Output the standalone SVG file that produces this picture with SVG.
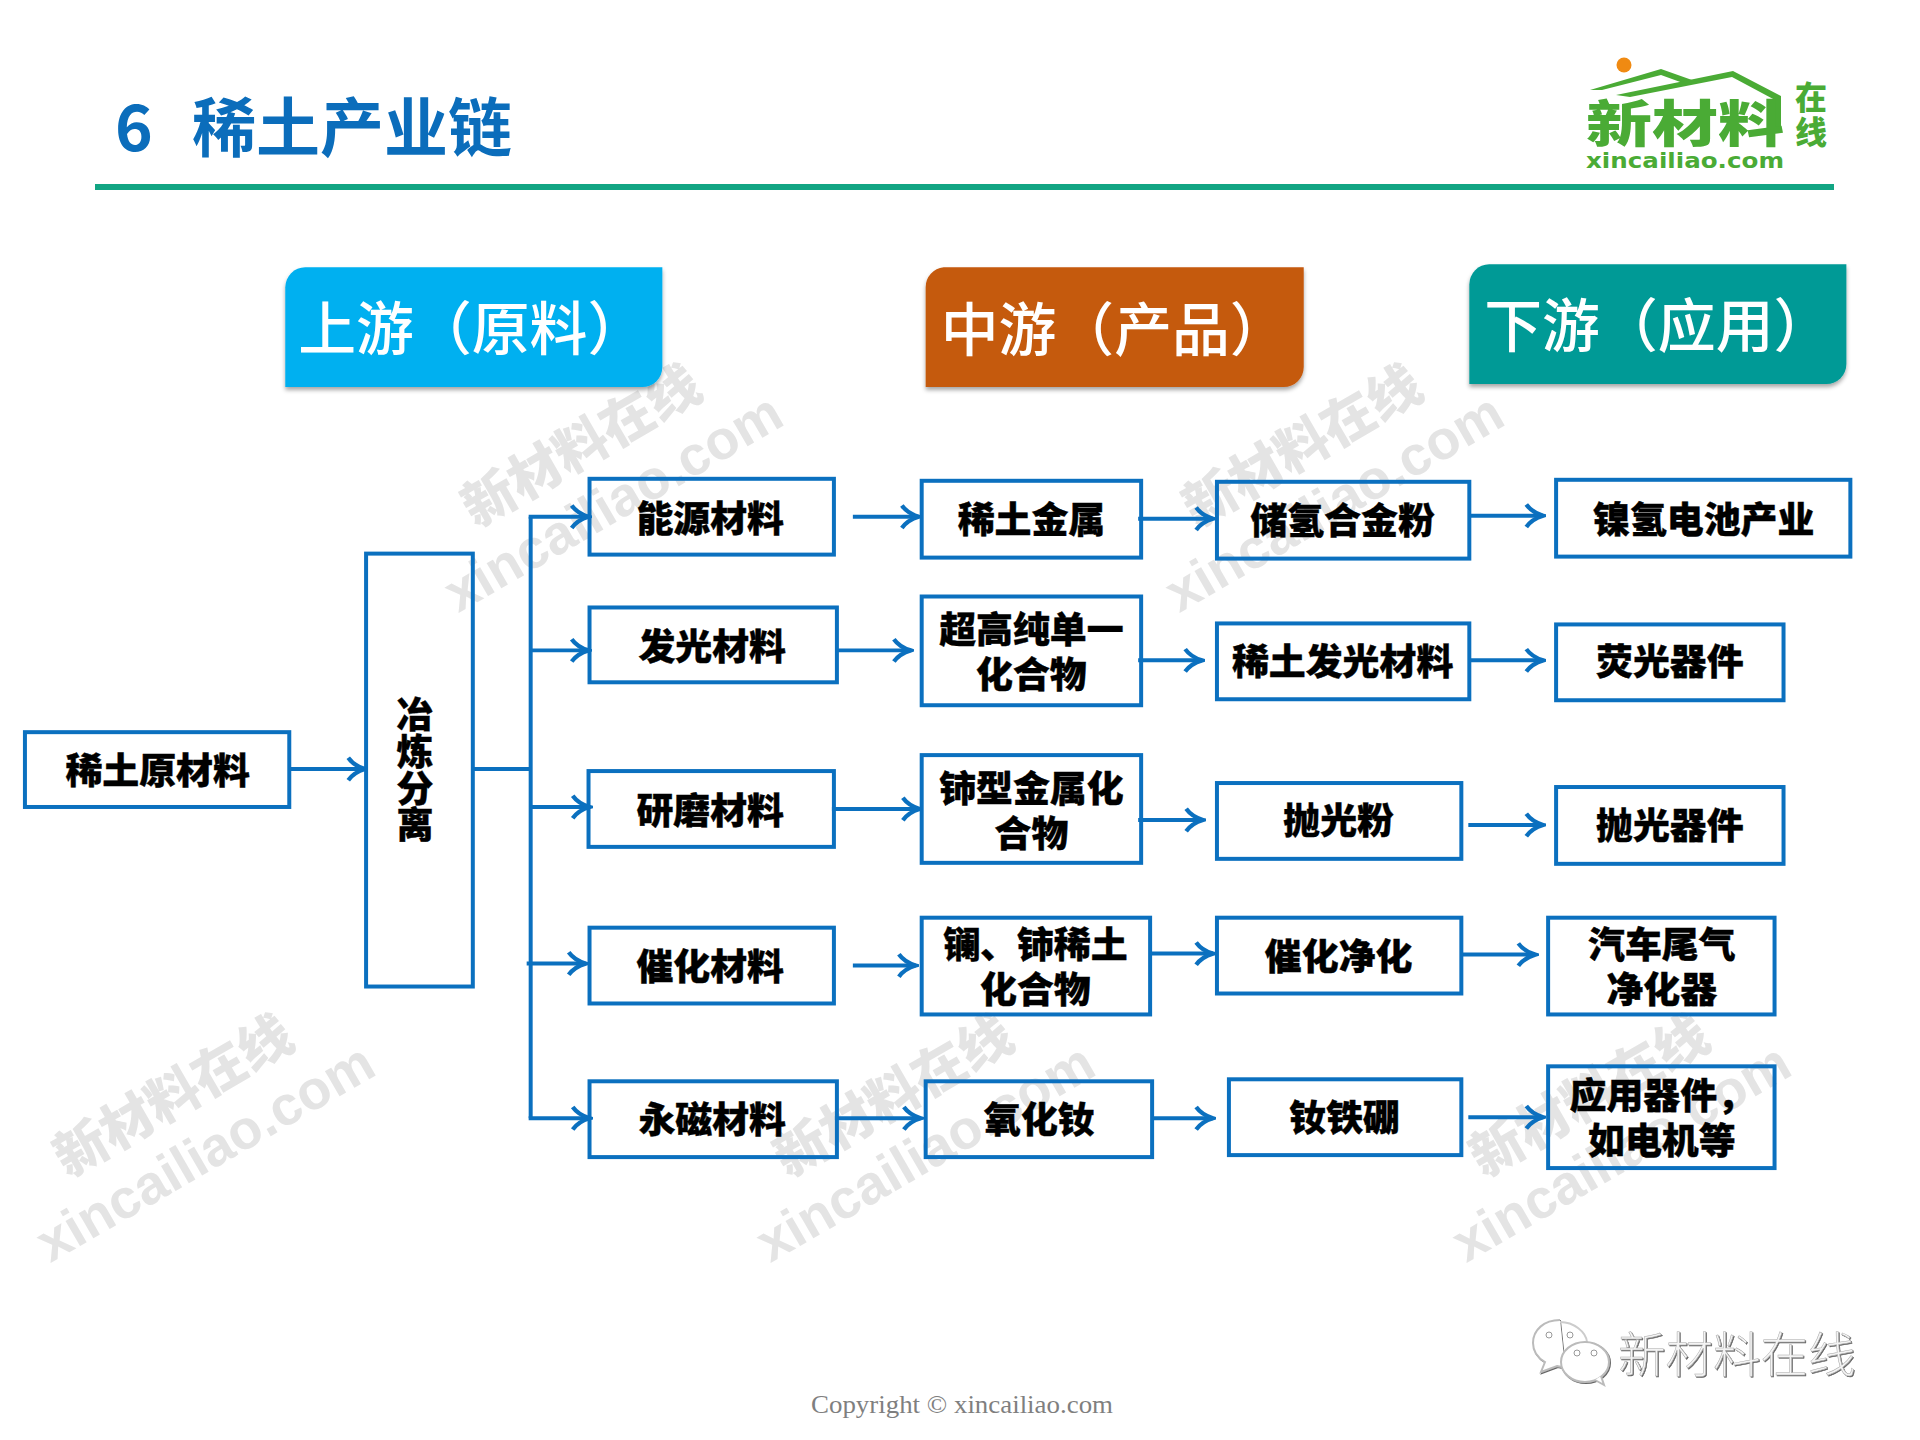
<svg xmlns="http://www.w3.org/2000/svg" width="1920" height="1440" viewBox="0 0 1920 1440">
<style>
text{font-family:"Noto Sans CJK SC","Liberation Sans",sans-serif}
.box{fill:none;stroke:#0b70bf;stroke-width:4}
.t{font-size:37px;font-weight:900;fill:#000;stroke:#000;stroke-width:.4;text-anchor:middle;dominant-baseline:central;transform:translateY(-2px)}
.h{font-size:58px;font-weight:500;fill:#fff;dominant-baseline:central;transform:translateY(-2px)}
.c{fill:none;stroke:#0b70bf;stroke-width:4}
.a{marker-end:url(#arr)}
.wm1{font-size:53px;font-weight:900;fill:#e4e4e4;text-anchor:middle;dominant-baseline:central}
.wm2{font-size:55px;font-weight:700;fill:#e4e4e4;text-anchor:middle;dominant-baseline:central;font-family:"Liberation Sans",sans-serif}
.lg{fill:#4aab35}
</style>
<defs>
<marker id="arr" markerUnits="userSpaceOnUse" markerWidth="27" markerHeight="27" refX="21" refY="12" orient="auto" viewBox="0 0 24 24">
<path d="M6,2 Q11,9 21,12 Q11,15 6,22" fill="none" stroke="#0b70bf" stroke-width="3.8"/>
</marker>
<filter id="sh" x="-5%" y="-5%" width="110%" height="115%"><feDropShadow dx="0" dy="3" stdDeviation="2" flood-color="#000" flood-opacity=".35"/></filter>
<filter id="em" x="-5%" y="-5%" width="110%" height="115%"><feDropShadow dx="1" dy="1" stdDeviation=".6" flood-color="#555" flood-opacity=".9"/></filter>
<g id="wm">
<text class="wm1" transform="translate(171 1092) rotate(-30)">新材料在线</text>
<text class="wm2" transform="translate(205 1152) rotate(-30)">xincailiao.com</text>
</g>
</defs>
<rect width="1920" height="1440" fill="#fff"/>
<g id="watermarks">
<use href="#wm"/><use href="#wm" x="720"/><use href="#wm" x="1416"/>
<use href="#wm" x="408" y="-650"/><use href="#wm" x="1129" y="-650"/>
</g>
<g id="title">
<text x="115" y="123" font-size="64" font-weight="700" fill="#0b6dbb" dominant-baseline="central" font-family="Liberation Sans">6</text>
<text x="192" y="123" font-size="64" font-weight="700" fill="#0b6dbb" dominant-baseline="central">稀土产业链</text>
<rect x="95" y="184" width="1739" height="6" fill="#12a583"/>
</g>
<g id="logo">
<circle cx="1624" cy="65" r="7.5" fill="#f08a12"/>
<path class="lg" d="M1590,90 L1661,69 L1692,80 L1683,83 L1661,75 L1602,90Z"/>
<path class="lg" d="M1616,95 L1733,71 L1781,96 L1781,130 L1775,130 L1775,100 L1732,77 L1630,97Z"/>
<text class="lg" x="1586" y="142" font-size="50" font-weight="900" textLength="198" lengthAdjust="spacingAndGlyphs">新材料</text>
<text class="lg" x="1811" y="95" font-size="32" font-weight="900" text-anchor="middle" dominant-baseline="central">在</text>
<text class="lg" x="1811" y="130" font-size="32" font-weight="900" text-anchor="middle" dominant-baseline="central">线</text>
<text class="lg" x="1586" y="168" font-size="22" font-weight="700" textLength="198" lengthAdjust="spacingAndGlyphs" style="font-family:'DejaVu Sans',sans-serif">xincailiao.com</text>
</g>
<g id="diagram" transform="scale(.9975)">
<g id="h-up">
<path d="M306,268H664V368a20,20 0 0 1-20,20H286V288a20,20 0 0 1 20-20Z" fill="#00b0f0" filter="url(#sh)"/>
<text class="h" x="299" y="328">上游（原料）</text>
</g>
<g id="h-mid">
<path d="M946,268H1307V368a20,20 0 0 1-20,20H928V288a20,20 0 0 1 18-20Z" fill="#c55a11" filter="url(#sh)"/>
<text class="h" x="943" y="329">中游（产品）</text>
</g>
<g id="h-down">
<path d="M1493,265H1851V365a20,20 0 0 1-20,20H1473V285a20,20 0 0 1 20-20Z" fill="#029a96" filter="url(#sh)"/>
<text class="h" x="1488" y="325">下游（应用）</text>
</g>
<g id="connectors" class="c">
<path class="a" d="M290,771H366"/>
<path d="M473,771H532M532,518V1121"/>
<path class="a" d="M530,518H590"/>
<path class="a" d="M532,652H590"/>
<path class="a" d="M532,809H591"/>
<path class="a" d="M528,966H587"/>
<path class="a" d="M530,1121H591"/>
<path class="a" d="M855,518H921"/>
<path class="a" d="M839,652H913"/>
<path class="a" d="M834,811H922"/>
<path class="a" d="M855,968H918"/>
<path class="a" d="M837,1121H923"/>
<path class="a" d="M1141,520H1216"/>
<path class="a" d="M1141,662H1205"/>
<path class="a" d="M1141,822H1206"/>
<path class="a" d="M1153,956H1216"/>
<path class="a" d="M1155,1121H1216"/>
<path class="a" d="M1472,517H1547"/>
<path class="a" d="M1472,662H1547"/>
<path class="a" d="M1472,827H1547"/>
<path class="a" d="M1464,957H1539"/>
<path class="a" d="M1472,1120H1547"/>
</g>
<g id="n1"><rect class="box" x="25" y="734" width="265" height="75"/><text class="t" x="158" y="772">稀土原材料</text></g>
<g id="n2"><rect class="box" x="367" y="555" width="107" height="434"/><text class="t" x="416" y="773" writing-mode="vertical-rl">冶炼分离</text></g>
<g id="n3"><rect class="box" x="591" y="480" width="245" height="76"/><text class="t" x="712" y="519">能源材料</text></g>
<g id="n4"><rect class="box" x="591" y="609" width="248" height="75"/><text class="t" x="714" y="648">发光材料</text></g>
<g id="n5"><rect class="box" x="590" y="773" width="246" height="76"/><text class="t" x="712" y="812">研磨材料</text></g>
<g id="n6"><rect class="box" x="591" y="930" width="245" height="76"/><text class="t" x="712" y="968">催化材料</text></g>
<g id="n7"><rect class="box" x="591" y="1084" width="248" height="76"/><text class="t" x="714" y="1122">永磁材料</text></g>
<g id="n8"><rect class="box" x="924" y="482" width="220" height="77"/><text class="t" x="1034" y="520">稀土金属</text></g>
<g id="n9"><rect class="box" x="924" y="598" width="220" height="109"/><text class="t" x="1034" y="631">超高纯单一</text><text class="t" x="1034" y="676">化合物</text></g>
<g id="n10"><rect class="box" x="924" y="757" width="220" height="108"/><text class="t" x="1034" y="790">铈型金属化</text><text class="t" x="1034" y="835">合物</text></g>
<g id="n11"><rect class="box" x="924" y="920" width="229" height="97"/><text class="t" x="1038" y="946">镧、铈稀土</text><text class="t" x="1038" y="991">化合物</text></g>
<g id="n12"><rect class="box" x="928" y="1084" width="227" height="76"/><text class="t" x="1042" y="1122">氧化钕</text></g>
<g id="n13"><rect class="box" x="1220" y="483" width="253" height="77"/><text class="t" x="1346" y="521">储氢合金粉</text></g>
<g id="n14"><rect class="box" x="1220" y="625" width="253" height="76"/><text class="t" x="1346" y="663">稀土发光材料</text></g>
<g id="n15"><rect class="box" x="1220" y="785" width="245" height="76"/><text class="t" x="1342" y="822">抛光粉</text></g>
<g id="n16"><rect class="box" x="1220" y="920" width="245" height="76"/><text class="t" x="1342" y="958">催化净化</text></g>
<g id="n17"><rect class="box" x="1232" y="1082" width="233" height="76"/><text class="t" x="1348" y="1120">钕铁硼</text></g>
<g id="n18"><rect class="box" x="1560" y="481" width="295" height="77"/><text class="t" x="1708" y="520">镍氢电池产业</text></g>
<g id="n19"><rect class="box" x="1560" y="626" width="228" height="76"/><text class="t" x="1674" y="663">荧光器件</text></g>
<g id="n20"><rect class="box" x="1560" y="789" width="228" height="77"/><text class="t" x="1674" y="827">抛光器件</text></g>
<g id="n21"><rect class="box" x="1552" y="920" width="227" height="97"/><text class="t" x="1666" y="946">汽车尾气</text><text class="t" x="1666" y="991">净化器</text></g>
<g id="n22"><rect class="box" x="1552" y="1069" width="227" height="102"/><text class="t" x="1666" y="1098">应用器件，</text><text class="t" x="1666" y="1143">如电机等</text></g>
</g>
<g id="wechat">
<path d="M1560,1320c-16,0-27,10-27,23c0,9 5,15 12,19l-4,10 16-6c3,1 5,1 8,1" fill="#fff" stroke="#bbb" stroke-width="2" filter="url(#em)"/>
<path d="M1560,1322c14,0 26,10 27,20" fill="none" stroke="#ccc" stroke-width="2"/>
<ellipse cx="1585" cy="1362" rx="24" ry="20" fill="#fff" stroke="#bbb" stroke-width="2" filter="url(#em)"/>
<path d="M1595,1380l9,5-3-9" fill="#fff" stroke="#bbb" stroke-width="2"/>
<circle cx="1549" cy="1335" r="3" fill="none" stroke="#999"/><circle cx="1570" cy="1335" r="3" fill="none" stroke="#999"/>
<circle cx="1577" cy="1353" r="3" fill="none" stroke="#999"/><circle cx="1594" cy="1353" r="3" fill="none" stroke="#999"/>
<text x="1618" y="1351" font-size="47.5" font-weight="300" fill="#f4f4f4" stroke="#a8a8a8" stroke-width=".5" dominant-baseline="central" filter="url(#em)">新材料在线</text>
</g>
<text id="copyright" x="811" y="1413" font-size="26" fill="#7f7f7f" textLength="302" lengthAdjust="spacingAndGlyphs" style="font-family:'Liberation Serif',serif">Copyright © xincailiao.com</text>
</svg>
